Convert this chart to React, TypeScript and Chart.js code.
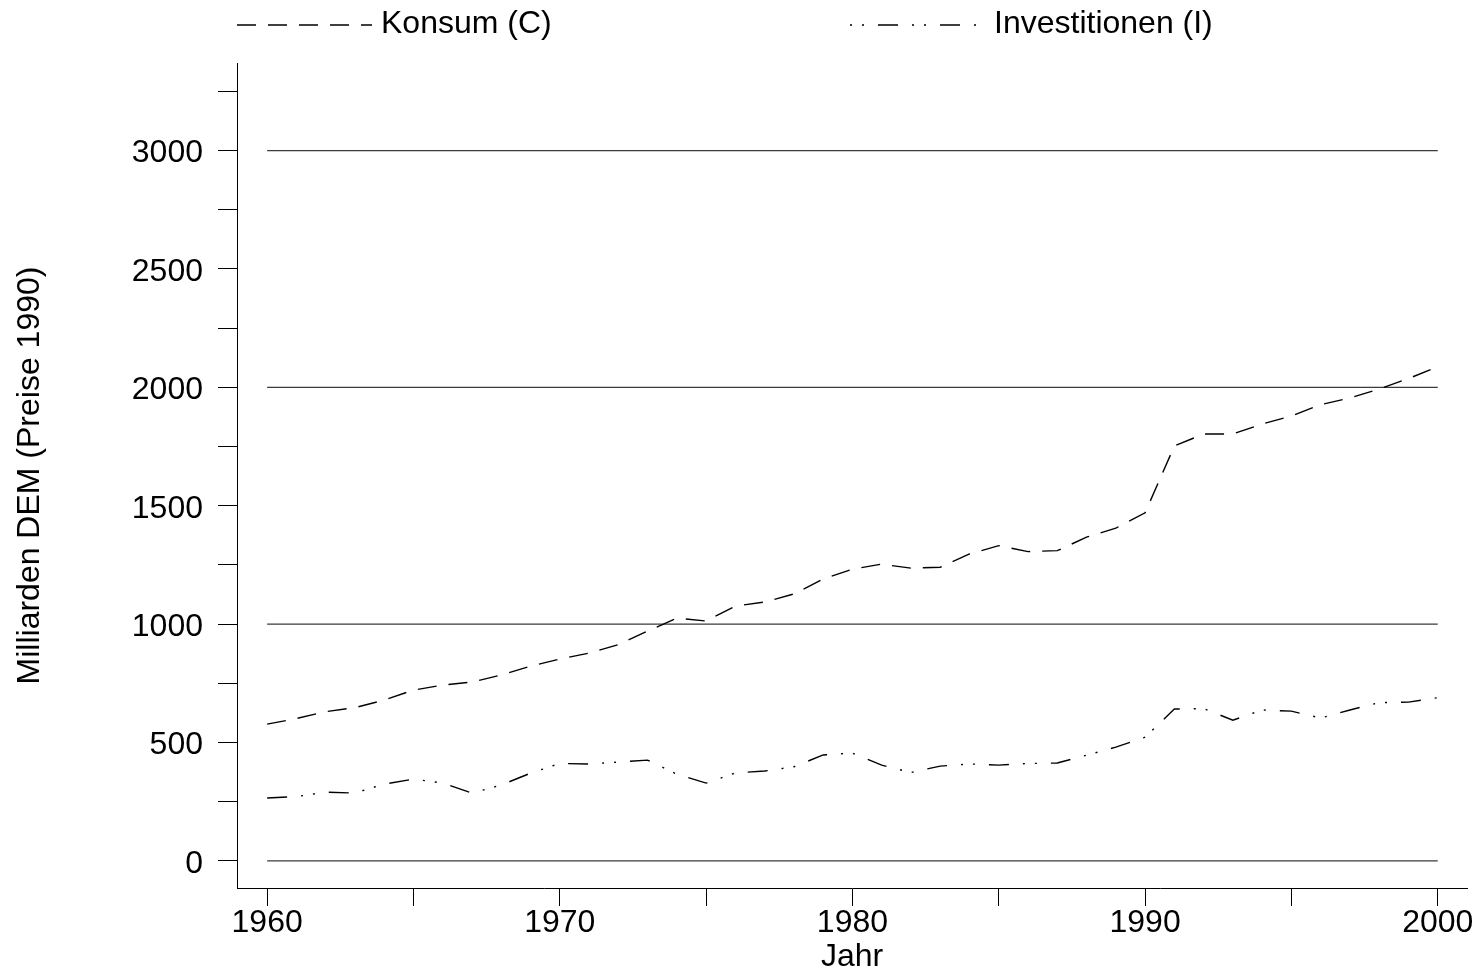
import React, { useEffect, useRef } from 'react';
import { Chart, registerables } from 'chart.js';

Chart.register(...registerables);

const years = [
  1960, 1961, 1962, 1963, 1964, 1965, 1966, 1967, 1968, 1969,
  1970, 1971, 1972, 1973, 1974, 1975, 1976, 1977, 1978, 1979,
  1980, 1981, 1982, 1983, 1984, 1985, 1986, 1987, 1988, 1989,
  1990, 1991, 1992, 1993, 1994, 1995, 1996, 1997, 1998, 1999, 2000,
];

const konsum = [
  577, 601, 630, 647, 679, 721, 742, 755, 785, 822,
  852, 877, 913, 970, 1025, 1013, 1076, 1093, 1127, 1190,
  1232, 1253, 1236, 1240, 1296, 1331, 1306, 1310, 1367, 1405,
  1470, 1752, 1803, 1803, 1845, 1879, 1927, 1955, 1993, 2037, 2087,
];

const investitionen = [
  265, 271, 290, 286, 324, 345, 328, 286, 320, 370,
  411, 409, 417, 425, 366, 328, 371, 379, 397, 447,
  455, 404, 373, 400, 409, 404, 411, 413, 446, 480,
  522, 641, 643, 594, 637, 632, 603, 637, 668, 670, 689,
];

const seriesNames = ['Konsum (C)', 'Investitionen (I)'];
const yTickValues = [0, 250, 500, 750, 1000, 1250, 1500, 1750, 2000, 2250, 2500, 2750, 3000, 3250];
const yLabelStep = 500;
const xTickValues = [1960, 1965, 1970, 1975, 1980, 1985, 1990, 1995, 2000];
const xLabelStep = 10;
const gridValues = [0, 1000, 2000, 3000];
const xTitle = 'Jahr';
const yTitle = 'Milliarden DEM (Preise 1990)';

const FONT = '"Liberation Sans", Arial, Helvetica, sans-serif';
const DASH_C = [19, 12];
const DASH_I = [20, 14, 2, 10, 2, 14];

const gridPlugin = {
  id: 'partialGrid',
  beforeDatasetsDraw(chart: any) {
    const { ctx, scales } = chart;
    const xs = scales.x;
    const ys = scales.y;
    const x0 = xs.getPixelForValue(years[0]);
    const x1 = xs.getPixelForValue(years[years.length - 1]);
    ctx.save();
    ctx.strokeStyle = '#3a3a3a';
    ctx.lineWidth = 1.3;
    gridValues.forEach((v) => {
      const y = ys.getPixelForValue(v);
      ctx.beginPath();
      ctx.moveTo(x0, y);
      ctx.lineTo(x1, y);
      ctx.stroke();
    });
    ctx.restore();
  },
};

const legendPlugin = {
  id: 'keyLegend',
  afterDraw(chart: any) {
    const { ctx, chartArea } = chart;
    const w = chartArea.right - chartArea.left;
    const starts = [chartArea.left, chartArea.left + w / 2 - 2];
    const dashes = [DASH_C, DASH_I];
    const offsets = [0, 34];
    const lineY = 25;
    const sampleLen = 135;
    ctx.save();
    chart.data.datasets.forEach((ds: any, i: number) => {
      const x = starts[i];
      ctx.beginPath();
      ctx.setLineDash(dashes[i]);
      ctx.lineDashOffset = offsets[i];
      ctx.strokeStyle = '#000';
      ctx.lineWidth = 1.4;
      ctx.moveTo(x, lineY);
      ctx.lineTo(x + sampleLen, lineY);
      ctx.stroke();
      ctx.setLineDash([]);
      ctx.lineDashOffset = 0;
      ctx.fillStyle = '#000';
      ctx.font = `32px ${FONT}`;
      ctx.textBaseline = 'middle';
      ctx.textAlign = 'left';
      ctx.fillText(ds.label, x + sampleLen + 9, 24.5);
    });
    ctx.restore();
  },
};

export default function App() {
  const ref = useRef<HTMLCanvasElement | null>(null);

  useEffect(() => {
    if (!ref.current) return;
    const chart = new Chart(ref.current, {
      type: 'line',
      data: {
        datasets: [
          {
            label: seriesNames[0],
            data: years.map((y, i) => ({ x: y, y: konsum[i] })),
            borderColor: '#000',
            borderWidth: 1.4,
            borderDash: DASH_C,
            pointRadius: 0,
            tension: 0,
            fill: false,
          },
          {
            label: seriesNames[1],
            data: years.map((y, i) => ({ x: y, y: investitionen[i] })),
            borderColor: '#000',
            borderWidth: 1.4,
            borderDash: DASH_I,
            pointRadius: 0,
            tension: 0,
            fill: false,
          },
        ],
      },
      options: {
        responsive: true,
        maintainAspectRatio: false,
        animation: false,
        events: [],
        layout: { padding: { top: 63, right: 6, left: 0, bottom: 0 } },
        plugins: {
          legend: { display: false },
          tooltip: { enabled: false },
          title: { display: false },
        },
        scales: {
          x: {
            type: 'linear',
            min: 1958.97,
            max: 2001,
            afterBuildTicks: (s: any) => {
              s.ticks = xTickValues.map((v) => ({ value: v }));
            },
            afterFit: (s: any) => {
              s.height = 83;
            },
            grid: {
              display: true,
              drawOnChartArea: false,
              drawTicks: true,
              tickLength: 18,
              color: '#000',
              lineWidth: 1,
            },
            border: { display: true, color: '#000', width: 1 },
            ticks: {
              autoSkip: false,
              maxRotation: 0,
              padding: -2,
              color: '#000',
              font: { family: FONT, size: 32 },
              callback: (v: any) => (Number(v) % xLabelStep === 0 ? String(v) : ''),
            },
            title: {
              display: true,
              text: xTitle,
              color: '#000',
              font: { family: FONT, size: 32 },
              padding: { top: 0, bottom: -5 },
            },
          },
          y: {
            type: 'linear',
            min: -115,
            max: 3370,
            afterBuildTicks: (s: any) => {
              s.ticks = yTickValues.map((v) => ({ value: v }));
            },
            afterFit: (s: any) => {
              s.width = 237;
            },
            grid: {
              display: true,
              drawOnChartArea: false,
              drawTicks: true,
              tickLength: 19,
              color: '#000',
              lineWidth: 1,
            },
            border: { display: true, color: '#000', width: 1 },
            ticks: {
              autoSkip: false,
              padding: 15,
              labelOffset: 3,
              color: '#000',
              font: { family: FONT, size: 32 },
              callback: (v: any) => (Number(v) % yLabelStep === 0 ? String(v) : ''),
            },
            title: {
              display: true,
              text: yTitle,
              color: '#000',
              font: { family: FONT, size: 32 },
              padding: { top: 11, bottom: 0 },
            },
          },
        },
      },
      plugins: [gridPlugin, legendPlugin],
    });
    return () => chart.destroy();
  }, []);

  return (
    <div style={{ position: 'absolute', left: 0, top: 0, width: 1473, height: 971, background: '#fff' }}>
      <canvas ref={ref} />
    </div>
  );
}
